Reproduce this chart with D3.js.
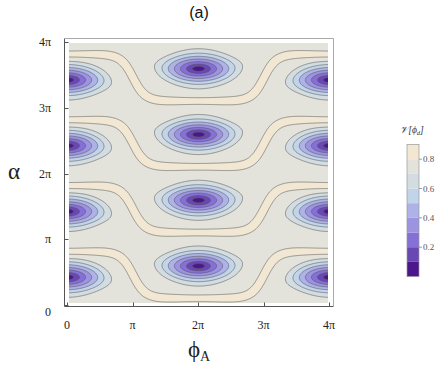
<!DOCTYPE html>
<html><head><meta charset="utf-8">
<script src="https://cdn.jsdelivr.net/npm/d3@7"></script>
<style>body{margin:0;background:#fff}</style>
</head><body>
<svg id="c" width="441" height="365" xmlns="http://www.w3.org/2000/svg"></svg>
<script>
// ---------------- data (angles in units of π) ----------------
const phiTicks = [0, 1, 2, 3, 4];
const alphaTicks = [0, 1, 2, 3, 4];
const tickLabels = ["0", "π", "2π", "3π", "4π"];
const levels = [0, 0.1, 0.2, 0.3, 0.4, 0.5, 0.6, 0.7, 0.8, 0.9];
const levelColors = ["#4c168c", "#6a48b4", "#8571d6", "#9c94e0", "#afb2e7",
                     "#c1d4ea", "#d2dce1", "#e3e3dc", "#f2e7d3"];
const legendTicks = [0.2, 0.4, 0.6, 0.8];
// features
const minimaAlpha = [0.43, 0.60];   // α of the zeros at φA = 0 (and 4π) / at φA = 2π  (mod π)
const ridgeAlpha  = [0.82, 0.11];   // α of the bright ridge on the φA = 0 side / φA = 2π side (mod π)
const gradient    = [1.085, 2.8];   // dV/dφA, dV/dα next to a zero (per π)
const plateauV    = [0.78, 0.82];   // plateau value, ridge crest value

// ---------------- field ----------------
const STEP_W = 0.2, RIDGE_W = 0.08;
function field(phi, alpha) {
  let p = ((phi % 4) + 4) % 4; if (p > 2) p = 4 - p;
  const S = 0.5 * (1 + Math.tanh((p - 1) / STEP_W));
  const m = minimaAlpha[0] + ((minimaAlpha[1] - 1) - minimaAlpha[0]) * S;
  const r = ridgeAlpha[0] + (ridgeAlpha[1] - ridgeAlpha[0]) * S;
  const dr = (ridgeAlpha[1] - ridgeAlpha[0]) * 2 * S * (1 - S) / STEP_W;
  const dphi = Math.min(p, 2 - p);
  const sa = Math.sin(Math.PI * (alpha - m)) / Math.PI;
  const q = Math.hypot(gradient[0] * dphi, gradient[1] * sa);
  const u = q / plateauV[0];
  const v0 = plateauV[0] * u / Math.pow(1 + Math.pow(u, 10), 0.1);
  let d = alpha - r; d = d - Math.round(d);
  const dp = d / Math.sqrt(1 + dr * dr);
  const G = Math.exp(-(dp / RIDGE_W) * (dp / RIDGE_W));
  return v0 + (plateauV[1] - v0) * G;
}

// ---------------- layout ----------------
const svg = d3.select("#c");
const x = d3.scaleLinear().domain([0, 4]).range([67, 329]);
const y = d3.scaleLinear().domain([0, 4]).range([305, 42]);
const fill = {x0: 69, y0: 43, x1: 328, y1: 303};

const pad = 3;
const gx0 = fill.x0 - pad, gy0 = fill.y0 - pad;
const nx = (fill.x1 - fill.x0) + 2 * pad + 1, ny = (fill.y1 - fill.y0) + 2 * pad + 1;
const values = new Float64Array(nx * ny);
for (let j = 0; j < ny; j++) for (let i = 0; i < nx; i++) {
  values[j * nx + i] = field(x.invert(gx0 + i), y.invert(gy0 + j));
}
const contours = d3.contours().size([nx, ny]).thresholds(levels.slice(0, 9))(values);
const path = d3.geoPath(d3.geoIdentity().translate([gx0, gy0]));

svg.append("clipPath").attr("id", "clip").append("rect")
  .attr("x", fill.x0).attr("y", fill.y0)
  .attr("width", fill.x1 - fill.x0).attr("height", fill.y1 - fill.y0);

const g = svg.append("g").attr("clip-path", "url(#clip)");
g.selectAll("path.f").data(contours).join("path").attr("class", "f")
  .attr("d", path).attr("fill", (d, i) => levelColors[i]).attr("stroke", "none");
g.selectAll("path.l").data(contours.slice(1)).join("path").attr("class", "l")
  .attr("d", path).attr("fill", "none")
  .attr("stroke", "#555").attr("stroke-opacity", 0.7).attr("stroke-width", 0.8);

// frame
const frame = svg.append("g").attr("fill", "none");
frame.append("path").attr("d", "M64.5,38.5V306.5H333.5").attr("stroke", "#555").attr("stroke-width", 1);
frame.append("path").attr("d", "M64.5,38.5H333.5V306.5").attr("stroke", "#aaa").attr("stroke-width", 1);
frame.selectAll("line.yt").data(alphaTicks).join("line")
  .attr("x1", 64.5).attr("x2", 68.5).attr("y1", d => Math.round(y(d)) + 0.5).attr("y2", d => Math.round(y(d)) + 0.5)
  .attr("stroke", "#555");
frame.selectAll("line.xt").data(phiTicks).join("line")
  .attr("y1", 306.5).attr("y2", 302.5).attr("x1", d => Math.round(x(d)) + 0.5).attr("x2", d => Math.round(x(d)) + 0.5)
  .attr("stroke", "#555");

const serif = "'Liberation Serif','Times New Roman',serif";
svg.selectAll("text.yl").data(alphaTicks).join("text")
  .attr("x", 51).attr("y", d => d === 0 ? 316 : y(d) + 4)
  .attr("text-anchor", "end").attr("font-family", serif).attr("font-size", 12).attr("fill", "#222")
  .text((d, i) => tickLabels[i]);
svg.selectAll("text.xl").data(phiTicks).join("text")
  .attr("x", d => x(d)).attr("y", 329)
  .attr("text-anchor", "middle").attr("font-family", serif).attr("font-size", 12).attr("fill", "#222")
  .text((d, i) => tickLabels[i]);

svg.append("text").attr("x", 14).attr("y", 179).attr("text-anchor", "middle")
  .attr("font-family", serif).attr("font-size", 23).attr("fill", "#222").text("α");
const xt = svg.append("text").attr("x", 199).attr("y", 357).attr("text-anchor", "middle")
  .attr("font-family", serif).attr("fill", "#222");
xt.append("tspan").attr("font-size", 23).text("ϕ");
xt.append("tspan").attr("font-size", 14).attr("dy", 4).text("A");

svg.append("text").attr("x", 199).attr("y", 18).attr("text-anchor", "middle")
  .attr("font-family", "'Liberation Sans',Arial,sans-serif").attr("font-size", 16).attr("fill", "#111").text("(a)");

// ---------------- legend ----------------
const ly = d3.scaleLinear().domain([0, 0.9]).range([276.5, 144.5]);
const leg = svg.append("g");
leg.selectAll("rect").data(levelColors).join("rect")
  .attr("x", 407).attr("width", 12)
  .attr("y", (c, i) => ly(levels[i + 1])).attr("height", (c, i) => ly(levels[i]) - ly(levels[i + 1]))
  .attr("fill", c => c);
leg.append("rect").attr("x", 407).attr("y", ly(0.9)).attr("width", 12).attr("height", ly(0) - ly(0.9))
  .attr("fill", "none").attr("stroke", "#999").attr("stroke-width", 0.7);
leg.selectAll("line").data(legendTicks).join("line")
  .attr("x1", 419).attr("x2", 422).attr("y1", d => ly(d)).attr("y2", d => ly(d)).attr("stroke", "#777").attr("stroke-width", 0.7);
leg.selectAll("text.t").data(legendTicks).join("text").attr("class", "t")
  .attr("x", 423).attr("y", d => ly(d) + 3).attr("font-family", serif).attr("font-size", 9).attr("fill", "#555")
  .text(d => d.toFixed(1));
const lt = leg.append("text").attr("x", 412).attr("y", 133).attr("text-anchor", "middle")
  .attr("font-family", serif).attr("font-size", 9.5).attr("font-style", "italic").attr("fill", "#333");
lt.append("tspan").text("𝒱[ϕ");
lt.append("tspan").attr("font-size", 6.5).attr("dy", 2).text("d");
lt.append("tspan").attr("dy", -2).text("]");
</script>
</body></html>
